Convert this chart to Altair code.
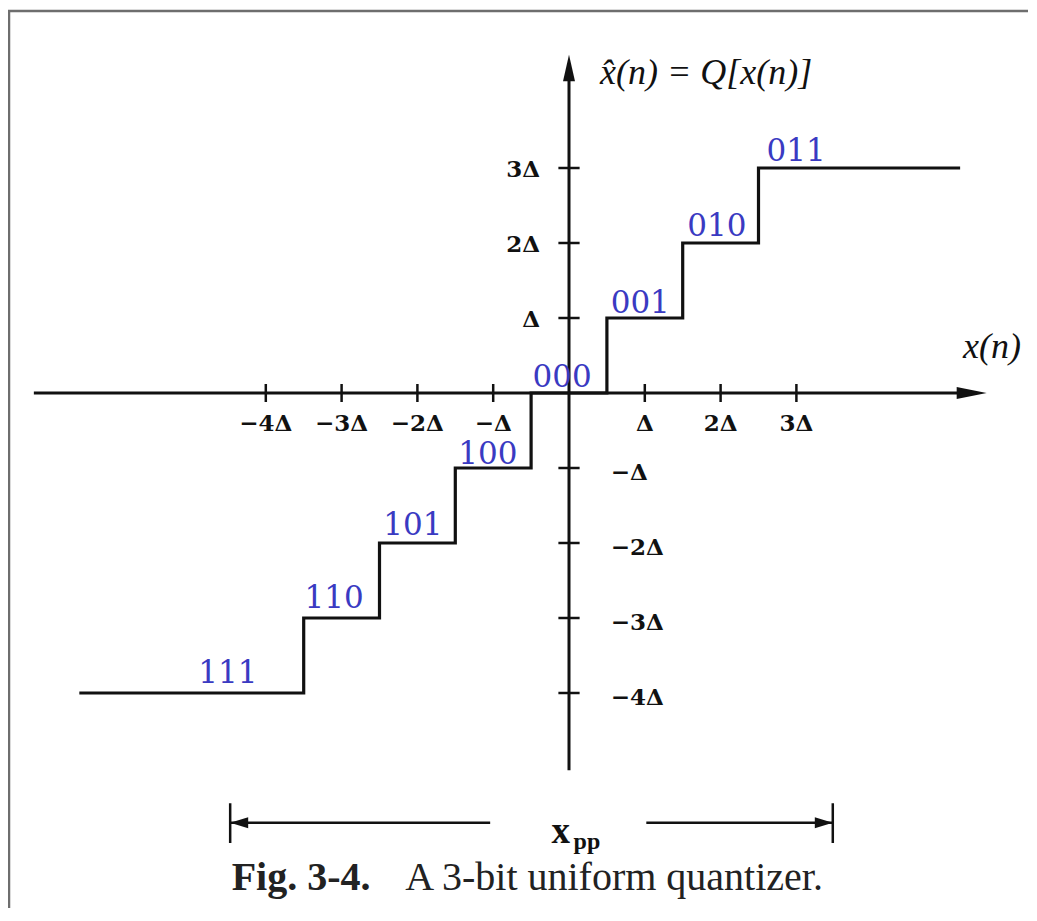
import altair as alt
import pandas as pd

# ---------------- data (in units of the step size Δ) ----------------
step_edges = [-6.46, -3.5, -2.5, -1.5, -0.5, 0.5, 1.5, 2.5, 5.16]
step_levels = [-4, -3, -2, -1, 0, 1, 2, 3, 3]

codes = ["111", "110", "101", "100", "000", "001", "010", "011"]
code_x = [-4.50, -3.10, -2.06, -1.07, -0.09, 0.94, 1.95, 2.995]
code_y = [-3.75, -2.75, -1.77, -0.82, 0.20, 1.19, 2.21, 3.21]

x_ticks = [-4, -3, -2, -1, 1, 2, 3]
x_tick_labels = ["−4Δ", "−3Δ", "−2Δ", "−Δ", "Δ", "2Δ", "3Δ"]
y_ticks_pos = [1, 2, 3]
y_tick_labels_pos = ["Δ", "2Δ", "3Δ"]
y_ticks_neg = [-1, -2, -3, -4]
y_tick_labels_neg = ["−Δ", "−2Δ", "−3Δ", "−4Δ"]

x_axis_span = [-7.06, 5.51]
y_axis_span = [-5.03, 4.51]

xpp_ends = [-4.47, 3.48]
xpp_level = -5.73
xpp_bar_span = [-5.47, -6.0]
xpp_gap = [-1.04, 1.02]

y_title = "x̂(n) = Q[x(n)]"
x_title = "x(n)"
caption_bold = "Fig. 3-4."
caption_text = "A 3-bit uniform quantizer."

# ---------------- layout ----------------
W, H = 1020, 900
XMIN, XMAX = -561 / 75.8, (W - 561) / 75.8
YMAX, YMIN = 385 / 75.0, (385 - H) / 75.0

xs = alt.Scale(domain=[XMIN, XMAX], nice=False, zero=False)
ys = alt.Scale(domain=[YMIN, YMAX], nice=False, zero=False)


def X(f="x"):
    return alt.X(f"{f}:Q", scale=xs, axis=None)


def Y(f="y"):
    return alt.Y(f"{f}:Q", scale=ys, axis=None)


# axes lines
axes_df = pd.DataFrame({
    "x": [x_axis_span[0], 0],
    "x2": [x_axis_span[1] - 0.2, 0],
    "y": [0, y_axis_span[0]],
    "y2": [0, y_axis_span[1] - 0.2],
})
axes = alt.Chart(axes_df).mark_rule(color="#111", strokeWidth=3).encode(
    x=X(), x2="x2:Q", y=Y(), y2="y2:Q")

# ticks
tick_rows = []
for t in x_ticks:
    tick_rows.append({"x": t, "x2": t, "y": -0.12, "y2": 0.12})
for t in y_ticks_pos + y_ticks_neg:
    tick_rows.append({"x": -0.14, "x2": 0.14, "y": t, "y2": t})
ticks = alt.Chart(pd.DataFrame(tick_rows)).mark_rule(color="#111", strokeWidth=2.5).encode(
    x=X(), x2="x2:Q", y=Y(), y2="y2:Q")

# arrowheads of the axes
arrow_right = alt.Chart(pd.DataFrame({"x": [x_axis_span[1]], "y": [0]})).mark_point(
    shape="M0,0 L-2.5,-0.5 L-2.5,0.5 Z", size=576, filled=True, color="#111", opacity=1
).encode(x=X(), y=Y())
arrow_up = alt.Chart(pd.DataFrame({"x": [0], "y": [y_axis_span[1]]})).mark_point(
    shape="M0,0 L-0.5,2.2 L0.5,2.2 Z", size=576, filled=True, color="#111", opacity=1
).encode(x=X(), y=Y())

# staircase
stairs = alt.Chart(pd.DataFrame({"x": step_edges, "y": step_levels})).mark_line(
    interpolate="step-after", color="#111", strokeWidth=3.2
).encode(x=X(), y=Y())

# codes
codes_layer = alt.Chart(pd.DataFrame({"x": code_x, "y": code_y, "t": codes})).mark_text(
    font="DejaVu Serif", fontSize=31, color="#3a3ac2", baseline="middle", align="center"
).encode(x=X(), y=Y(), text="t:N")

# tick labels
LBL = dict(font="DejaVu Serif", fontWeight="bold", fontSize=23, color="#111", baseline="middle")
xl = alt.Chart(pd.DataFrame({"x": x_ticks, "y": [-0.41] * len(x_ticks), "t": x_tick_labels})).mark_text(
    align="center", **LBL
).encode(x=X(), y=Y(), text="t:N")
ylp = alt.Chart(pd.DataFrame({"x": [-0.38] * 3, "y": [v - 0.03 for v in y_ticks_pos], "t": y_tick_labels_pos})).mark_text(
    align="right", **LBL
).encode(x=X(), y=Y(), text="t:N")
yln = alt.Chart(pd.DataFrame({"x": [0.55] * 4, "y": [v - 0.07 for v in y_ticks_neg], "t": y_tick_labels_neg})).mark_text(
    align="left", **LBL
).encode(x=X(), y=Y(), text="t:N")

# axis titles
ytitle = alt.Chart(pd.DataFrame({"x": [0.41], "y": [4.27], "t": [y_title]})).mark_text(
    font="Liberation Serif", fontStyle="italic", fontSize=36, color="#111", baseline="middle", align="left"
).encode(x=X(), y=Y(), text="t:N")
xtitle = alt.Chart(pd.DataFrame({"x": [5.58], "y": [0.61], "t": [x_title]})).mark_text(
    font="Liberation Serif", fontStyle="italic", fontSize=36, color="#111", baseline="middle", align="center"
).encode(x=X(), y=Y(), text="t:N")

# x_pp dimension arrow
xpp_rows = [
    {"x": xpp_ends[0], "x2": xpp_gap[0], "y": xpp_level, "y2": xpp_level},
    {"x": xpp_gap[1], "x2": xpp_ends[1], "y": xpp_level, "y2": xpp_level},
    {"x": xpp_ends[0], "x2": xpp_ends[0], "y": xpp_bar_span[0], "y2": xpp_bar_span[1]},
    {"x": xpp_ends[1], "x2": xpp_ends[1], "y": xpp_bar_span[0], "y2": xpp_bar_span[1]},
]
xpp_lines = alt.Chart(pd.DataFrame(xpp_rows)).mark_rule(color="#111", strokeWidth=2.5).encode(
    x=X(), x2="x2:Q", y=Y(), y2="y2:Q")
xpp_left = alt.Chart(pd.DataFrame({"x": [xpp_ends[0]], "y": [xpp_level]})).mark_point(
    shape="M0,0 L2,-0.6 L2,0.6 Z", size=324, filled=True, color="#111", opacity=1
).encode(x=X(), y=Y())
xpp_right = alt.Chart(pd.DataFrame({"x": [xpp_ends[1]], "y": [xpp_level]})).mark_point(
    shape="M0,0 L-2,-0.6 L-2,0.6 Z", size=324, filled=True, color="#111", opacity=1
).encode(x=X(), y=Y())
xpp_x = alt.Chart(pd.DataFrame({"x": [-0.11], "y": [-5.85], "t": ["x"]})).mark_text(
    font="Liberation Serif", fontWeight="bold", fontSize=37, color="#111", baseline="middle", align="center"
).encode(x=X(), y=Y(), text="t:N")
xpp_sub = alt.Chart(pd.DataFrame({"x": [0.06], "y": [-5.98], "t": ["pp"]})).mark_text(
    font="Liberation Serif", fontWeight="bold", fontSize=24, color="#111", baseline="middle", align="left"
).encode(x=X(), y=Y(), text="t:N")

# caption
cap1 = alt.Chart(pd.DataFrame({"x": [-4.45], "y": [-6.63], "t": [caption_bold]})).mark_text(
    font="Liberation Serif", fontWeight="bold", fontSize=40, color="#222", baseline="alphabetic", align="left"
).encode(x=X(), y=Y(), text="t:N")
cap2 = alt.Chart(pd.DataFrame({"x": [-2.16], "y": [-6.63], "t": [caption_text]})).mark_text(
    font="Liberation Serif", fontSize=40, color="#222", baseline="alphabetic", align="left"
).encode(x=X(), y=Y(), text="t:N")

# frame (decoration on the top and left edges)
frame_top = alt.Chart(pd.DataFrame({"a": [0]})).mark_rule(color="#6e6e6e", strokeWidth=2.5).encode(
    x=alt.value(0), x2=alt.value(W), y=alt.value(3))
frame_left = alt.Chart(pd.DataFrame({"a": [0]})).mark_rule(color="#6e6e6e", strokeWidth=2.5).encode(
    x=alt.value(1), y=alt.value(3), y2=alt.value(H))

chart = alt.layer(
    frame_top, frame_left, axes, ticks, arrow_right, arrow_up, stairs, codes_layer,
    xl, ylp, yln, ytitle, xtitle, xpp_lines, xpp_left, xpp_right, xpp_x, xpp_sub, cap1, cap2
).properties(
    width=W, height=H, padding=0, autosize=alt.AutoSizeParams(type="none"), background="white"
).configure_view(stroke=None)

chart.save("out.html", embed_options={"renderer": "svg", "actions": False})
